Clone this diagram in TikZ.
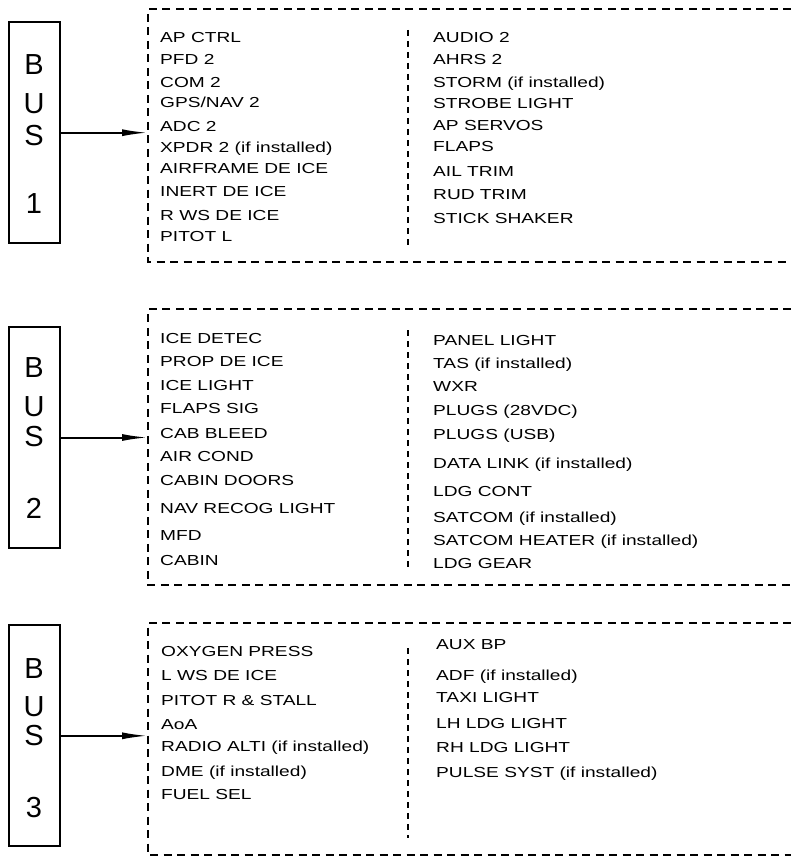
\documentclass[tikz,border=0pt]{standalone}
\usepackage{fontspec}
\setmainfont{Liberation Sans}[FakeStretch=1.32]
\newfontfamily\bigfont{Liberation Sans}
\usetikzlibrary{arrows.meta}
\tikzset{
  busbox/.style={draw, line width=2.3pt, minimum width=51pt, minimum height=221pt, inner sep=0pt},
  buslet/.style={anchor=base, inner sep=0pt, font=\bigfont\fontsize{29}{29}\selectfont},
  item/.style={anchor=base west, inner sep=0pt, font=\fontsize{14.5}{14.5}\selectfont},
  dashbox/.style={line width=1.8pt, dash pattern=on 8pt off 5.5pt},
  divider/.style={line width=1.8pt, dash pattern=on 6pt off 5pt},
  link/.style={line width=2pt, -{Latex[length=26pt,width=7pt]}}
}
\begin{document}
\begin{tikzpicture}[x=1pt,y=-1pt]
\useasboundingbox (0,0) rectangle (791,856);

% ---------------- BUS 1 ----------------
\node[busbox] (bus1) at (34.3,132.7) {};
\node[buslet] (b1B) at (34,74.3) {B};
\node[buslet] (b1U) at (34,113.3) {U};
\node[buslet] (b1S) at (34,145.5) {S};
\node[buslet] (b1N) at (34,213.3) {1};
\draw[dashbox] (791,9) -- (148,9) -- (148,262) -- (791,262);
\coordinate (t1) at (148,132.7);
\draw[link] (bus1.east) -- (t1);
\draw[divider] (408,30) -- (408,245);
\foreach \t/\y [count=\i] in {AP CTRL/42.7, PFD 2/65, COM 2/87.3, {GPS/NAV 2}/108, ADC 2/131.7,
  XPDR 2 (if installed)/152, AIRFRAME DE ICE/173.3, INERT DE ICE/196.7, R WS DE ICE/220, PITOT L/241.7}
  {\node[item] (a1l\i) at (160,\y) {\t};}
\foreach \t/\y [count=\i] in {AUDIO 2/42.7, AHRS 2/65, STORM (if installed)/87.3, STROBE LIGHT/108.3,
  AP SERVOS/130.7, FLAPS/151.7, AIL TRIM/176.7, RUD TRIM/199, STICK SHAKER/223.3}
  {\node[item] (a1r\i) at (433,\y) {\t};}

% ---------------- BUS 2 ----------------
\node[busbox] (bus2) at (34.3,437.5) {};
\node[buslet] (b2B) at (34,377) {B};
\node[buslet] (b2U) at (34,416.7) {U};
\node[buslet] (b2S) at (34,446.5) {S};
\node[buslet] (b2N) at (34,518.3) {2};
\draw[dashbox] (791,309.3) -- (148,309.3) -- (148,585) -- (791,585);
\coordinate (t2) at (148,437.5);
\draw[link] (bus2.east) -- (t2);
\draw[divider] (408,330) -- (408,570);
\foreach \t/\y [count=\i] in {ICE DETEC/343.3, PROP DE ICE/366, ICE LIGHT/390.7, FLAPS SIG/413.3,
  CAB BLEED/438.3, AIR COND/461.7, CABIN DOORS/485.7, NAV RECOG LIGHT/513.3, MFD/540.7, CABIN/565}
  {\node[item] (a2l\i) at (160,\y) {\t};}
\foreach \t/\y [count=\i] in {PANEL LIGHT/345, TAS (if installed)/368.3, WXR/391, PLUGS (28VDC)/415,
  PLUGS (USB)/439.3, DATA LINK (if installed)/468.3, LDG CONT/496, SATCOM (if installed)/522.7,
  SATCOM HEATER (if installed)/545, LDG GEAR/568.3}
  {\node[item] (a2r\i) at (433,\y) {\t};}

% ---------------- BUS 3 ----------------
\node[busbox] (bus3) at (34.3,735.8) {};
\node[buslet] (b3B) at (34,678) {B};
\node[buslet] (b3U) at (34,716) {U};
\node[buslet] (b3S) at (34,745.5) {S};
\node[buslet] (b3N) at (34,817.3) {3};
\draw[dashbox] (791,622.7) -- (148,622.7) -- (148,855) -- (791,855);
\coordinate (t3) at (148,735.8);
\draw[link] (bus3.east) -- (t3);
\draw[divider] (408,648) -- (408,838);
\foreach \t/\y [count=\i] in {OXYGEN PRESS/656, L WS DE ICE/680, PITOT R \& STALL/705, AoA/729.3,
  RADIO ALTI (if installed)/751.7, DME (if installed)/776.7, FUEL SEL/799.3}
  {\node[item] (a3l\i) at (161,\y) {\t};}
\foreach \t/\y [count=\i] in {AUX BP/649.3, ADF (if installed)/680, TAXI LIGHT/702.7, LH LDG LIGHT/728.3,
  RH LDG LIGHT/752.7, PULSE SYST (if installed)/777.3}
  {\node[item] (a3r\i) at (436,\y) {\t};}
\end{tikzpicture}
\end{document}
